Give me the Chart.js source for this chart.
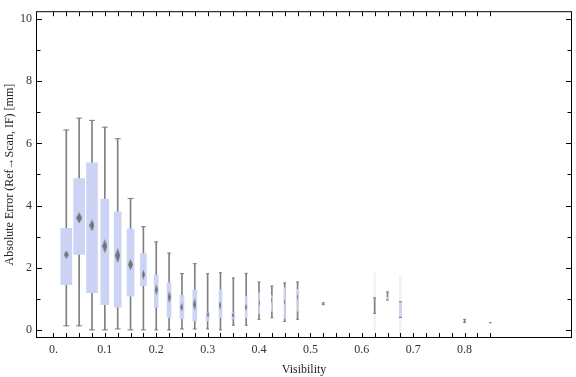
<!DOCTYPE html>
<html>
<head>
<meta charset="utf-8">
<script src="https://cdn.jsdelivr.net/npm/chart.js@4/dist/chart.umd.min.js"></script>
<style>
html, body { margin: 0; padding: 0; background: #fff; }
</style>
</head>
<body>
<canvas id="visChart" width="576" height="377"></canvas>
<script>
// bins on the visibility axis
var visibility = [0.025, 0.05, 0.075, 0.1, 0.125, 0.15, 0.175, 0.2, 0.225, 0.25, 0.275, 0.3, 0.325,
                  0.35, 0.375, 0.4, 0.425, 0.45, 0.475, 0.525, 0.625, 0.65, 0.675, 0.8, 0.85];
var whiskerLow  = [0.13, 0.13, 0.00, 0.00, 0.03, 0.00, 0.00, 0.00, 0.00, 0.03, 0.03, 0.03, 0.00,
                   0.15, 0.15, 0.34, 0.39, 0.27, 0.34, 0.81, 0.53, 0.96, 0.40, 0.24, 0.23];
var whiskerHigh = [6.43, 6.81, 6.74, 6.52, 6.15, 4.23, 3.32, 2.83, 2.47, 1.81, 2.13, 1.81, 1.84,
                   1.67, 1.82, 1.54, 1.41, 1.51, 1.54, 0.87, 1.03, 1.22, 0.90, 0.34, 0.23];
var boxLow  = [1.45, 2.43, 1.20, 0.81, 0.73, 1.08, 1.42, 0.73, 0.40, 0.36, 0.29, 0.29, 0.39,
               0.36, 0.39, 0.52, 0.60, 0.37, 0.60, null, null, 0.96, 0.40, null, null];
var boxHigh = [3.27, 4.87, 5.37, 4.21, 3.80, 3.24, 2.45, 1.76, 1.51, 1.11, 1.29, 0.57, 1.29,
               0.57, 1.07, 1.19, 1.10, 1.35, 1.30, null, null, 1.05, 0.90, null, null];
var medians = [2.42, 3.60, 3.36, 2.69, 2.39, 2.10, 1.78, 1.29, 1.05, 0.73, 0.82, 0.49, 0.79,
               0.47, 0.73, 0.85, 0.95, 0.90, 1.05, null, null, null, null, null, null];
// half height of the median diamond, in mm
var medianSpread = [0.13, 0.17, 0.20, 0.22, 0.24, 0.17, 0.16, 0.18, 0.19, 0.13, 0.19, 0.12, 0.15,
                    0.10, 0.12, 0.10, 0.10, 0.10, 0.10, null, null, null, null, null, null];

// faint bands
var faintX = [0.625, 0.675];
var faintLow = [0.0, -0.23];
var faintHigh = [1.83, 1.73];

var xTickValues = [0, 0.1, 0.2, 0.3, 0.4, 0.5, 0.6, 0.7, 0.8];
var xTickLabels = ['0.', '0.1', '0.2', '0.3', '0.4', '0.5', '0.6', '0.7', '0.8'];
var yTickValues = [0, 2, 4, 6, 8, 10];
var yTickLabels = ['0', '2', '4', '6', '8', '10'];

// styling (pixels)
var boxPx = [11, 11, 11, 8, 7, 7, 6, 4, 4, 4, 4, 3, 3, 3, 2, 1, 1, 1, 1, 1, 1, 2, 2, 1, 1];
var diamondPx = [5, 6, 5, 5, 5, 5, 3, 3, 3, 3, 3, 2, 2, 2, 2, 1, 1, 1, 1, 0, 0, 0, 0, 0, 0];
var capPx = [3, 3, 3, 3, 3, 3, 2.5, 2, 2, 2, 2, 1.5, 1.5, 1.5, 1.5, 1.5, 1.5, 1.5, 1.5, 1.5, 1.5, 1.5, 1.5, 1.5, 1];

var boxColor = 'rgb(204, 211, 245)';
var whiskerColor = 'rgb(128, 128, 128)';
var diamondColor = 'rgb(115, 115, 115)';
var textFont = { family: "'Liberation Serif', 'DejaVu Serif', serif", size: 12 };

var diamondCache = {};
function makeDiamond(w, h) {
    var key = w + 'x' + h;
    if (diamondCache[key]) return diamondCache[key];
    var c = document.createElement('canvas');
    c.width = Math.max(1, w);
    c.height = Math.max(1, h);
    var g = c.getContext('2d');
    g.fillStyle = diamondColor;
    g.beginPath();
    g.moveTo(c.width / 2, 0);
    g.lineTo(c.width, c.height / 2);
    g.lineTo(c.width / 2, c.height);
    g.lineTo(0, c.height / 2);
    g.closePath();
    g.fill();
    diamondCache[key] = c;
    return c;
}

// one bar dataset per box width
var widths = [];
boxPx.forEach(function(w, i) {
    if (boxLow[i] !== null && widths.indexOf(w) < 0) widths.push(w);
});
var boxSets = widths.map(function(w) {
    var pts = [];
    visibility.forEach(function(x, i) {
        if (boxLow[i] !== null && boxPx[i] === w) pts.push({ x: x, y: [boxLow[i], boxHigh[i]] });
    });
    return {
        type: 'bar',
        data: pts,
        backgroundColor: boxColor,
        barThickness: w,
        grouped: false,
        borderWidth: 0,
        order: 2
    };
});

var capPoints = [];
var capRadius = [];
visibility.forEach(function(x, i) {
    capPoints.push({ x: x, y: whiskerLow[i] });
    capRadius.push(capPx[i]);
    capPoints.push({ x: x, y: whiskerHigh[i] });
    capRadius.push(capPx[i]);
});

// frame with inward ticks
var frameTicks = {
    id: 'frameTicks',
    afterDatasetsDraw: function(chart) {
        var ctx = chart.ctx, a = chart.chartArea;
        var xs = chart.scales.x, ys = chart.scales.y;
        ctx.save();
        ctx.strokeStyle = '#000';
        ctx.lineWidth = 1;
        ctx.beginPath();
        for (var i = 0; i <= 34; i++) {
            var px = Math.round(xs.getPixelForValue(i * 0.025)) + 0.5;
            ctx.moveTo(px, a.bottom);
            ctx.lineTo(px, a.bottom - 4);
            ctx.moveTo(px, a.top);
            ctx.lineTo(px, a.top + 4);
        }
        for (var j = 0; j <= 10; j++) {
            var py = Math.round(ys.getPixelForValue(j)) + 0.5;
            var len = j % 2 === 0 ? 5 : 3.5;
            ctx.moveTo(a.left, py);
            ctx.lineTo(a.left + len, py);
            ctx.moveTo(a.right, py);
            ctx.lineTo(a.right - len, py);
        }
        ctx.stroke();
        ctx.strokeRect(a.left - 0.5, a.top - 0.5, a.right - a.left + 1, a.bottom - a.top + 1);
        ctx.restore();
    }
};

var chart = new Chart(document.getElementById('visChart').getContext('2d'), {
    type: 'bar',
    data: {
        datasets: [
            {
                type: 'scatter',
                data: visibility.map(function(x, i) { return { x: x, y: medians[i] }; }),
                pointStyle: function(ctx) {
                    var i = ctx.dataIndex;
                    if (medians[i] === null || !diamondPx[i]) return false;
                    var ys = ctx.chart.scales.y;
                    var h = 8;
                    if (ys) {
                        h = Math.round(Math.abs(ys.getPixelForValue(medians[i] - medianSpread[i]) -
                                                ys.getPixelForValue(medians[i] + medianSpread[i])));
                    }
                    return makeDiamond(diamondPx[i], h);
                },
                order: 0
            },
            {
                type: 'scatter',
                data: capPoints,
                pointStyle: 'line',
                pointRadius: capRadius,
                borderColor: whiskerColor,
                backgroundColor: whiskerColor,
                borderWidth: 1,
                order: 1
            }
        ].concat(boxSets).concat([
            {
                type: 'bar',
                data: visibility.map(function(x, i) { return { x: x, y: [whiskerLow[i], whiskerHigh[i]] }; }),
                backgroundColor: whiskerColor,
                barThickness: 1,
                grouped: false,
                borderWidth: 0,
                order: 3
            },
            {
                type: 'bar',
                data: faintX.map(function(x, i) { return { x: x, y: [faintLow[i], faintHigh[i]] }; }),
                backgroundColor: 'rgba(0, 0, 0, 0.05)',
                barThickness: 2,
                grouped: false,
                borderWidth: 0,
                order: 4
            }
        ])
    },
    options: {
        responsive: false,
        animation: false,
        devicePixelRatio: 1,
        layout: { padding: { top: 5, right: 1, left: 0, bottom: 0 } },
        plugins: { legend: { display: false }, tooltip: { enabled: false } },
        scales: {
            x: {
                type: 'linear',
                min: -0.032,
                max: 1.007,
                offset: false,
                grid: { display: false, drawTicks: false },
                border: { display: false },
                afterFit: function(scale) { scale.height = 40; },
                afterBuildTicks: function(scale) {
                    scale.ticks = xTickValues.map(function(v) { return { value: v }; });
                },
                ticks: {
                    padding: 6,
                    color: '#333',
                    font: textFont,
                    maxRotation: 0,
                    autoSkip: false,
                    callback: function(v) {
                        var k = xTickValues.indexOf(v);
                        return k >= 0 ? xTickLabels[k] : '';
                    }
                },
                title: {
                    display: true,
                    text: 'Visibility',
                    color: '#222',
                    font: textFont,
                    padding: { top: 0, bottom: 0 }
                }
            },
            y: {
                type: 'linear',
                min: -0.23,
                max: 10.22,
                grid: { display: false, drawTicks: false },
                border: { display: false },
                afterFit: function(scale) { scale.width = 37; },
                afterBuildTicks: function(scale) {
                    scale.ticks = yTickValues.map(function(v) { return { value: v }; });
                },
                ticks: {
                    padding: 5,
                    color: '#333',
                    font: textFont,
                    autoSkip: false,
                    callback: function(v) {
                        var k = yTickValues.indexOf(v);
                        return k >= 0 ? yTickLabels[k] : '';
                    }
                },
                title: {
                    display: true,
                    text: 'Absolute Error (Ref\u2192Scan, IF) [mm]',
                    color: '#222',
                    font: textFont,
                    padding: { top: 3, bottom: 0 }
                }
            }
        }
    },
    plugins: [frameTicks]
});
</script>
</body>
</html>
